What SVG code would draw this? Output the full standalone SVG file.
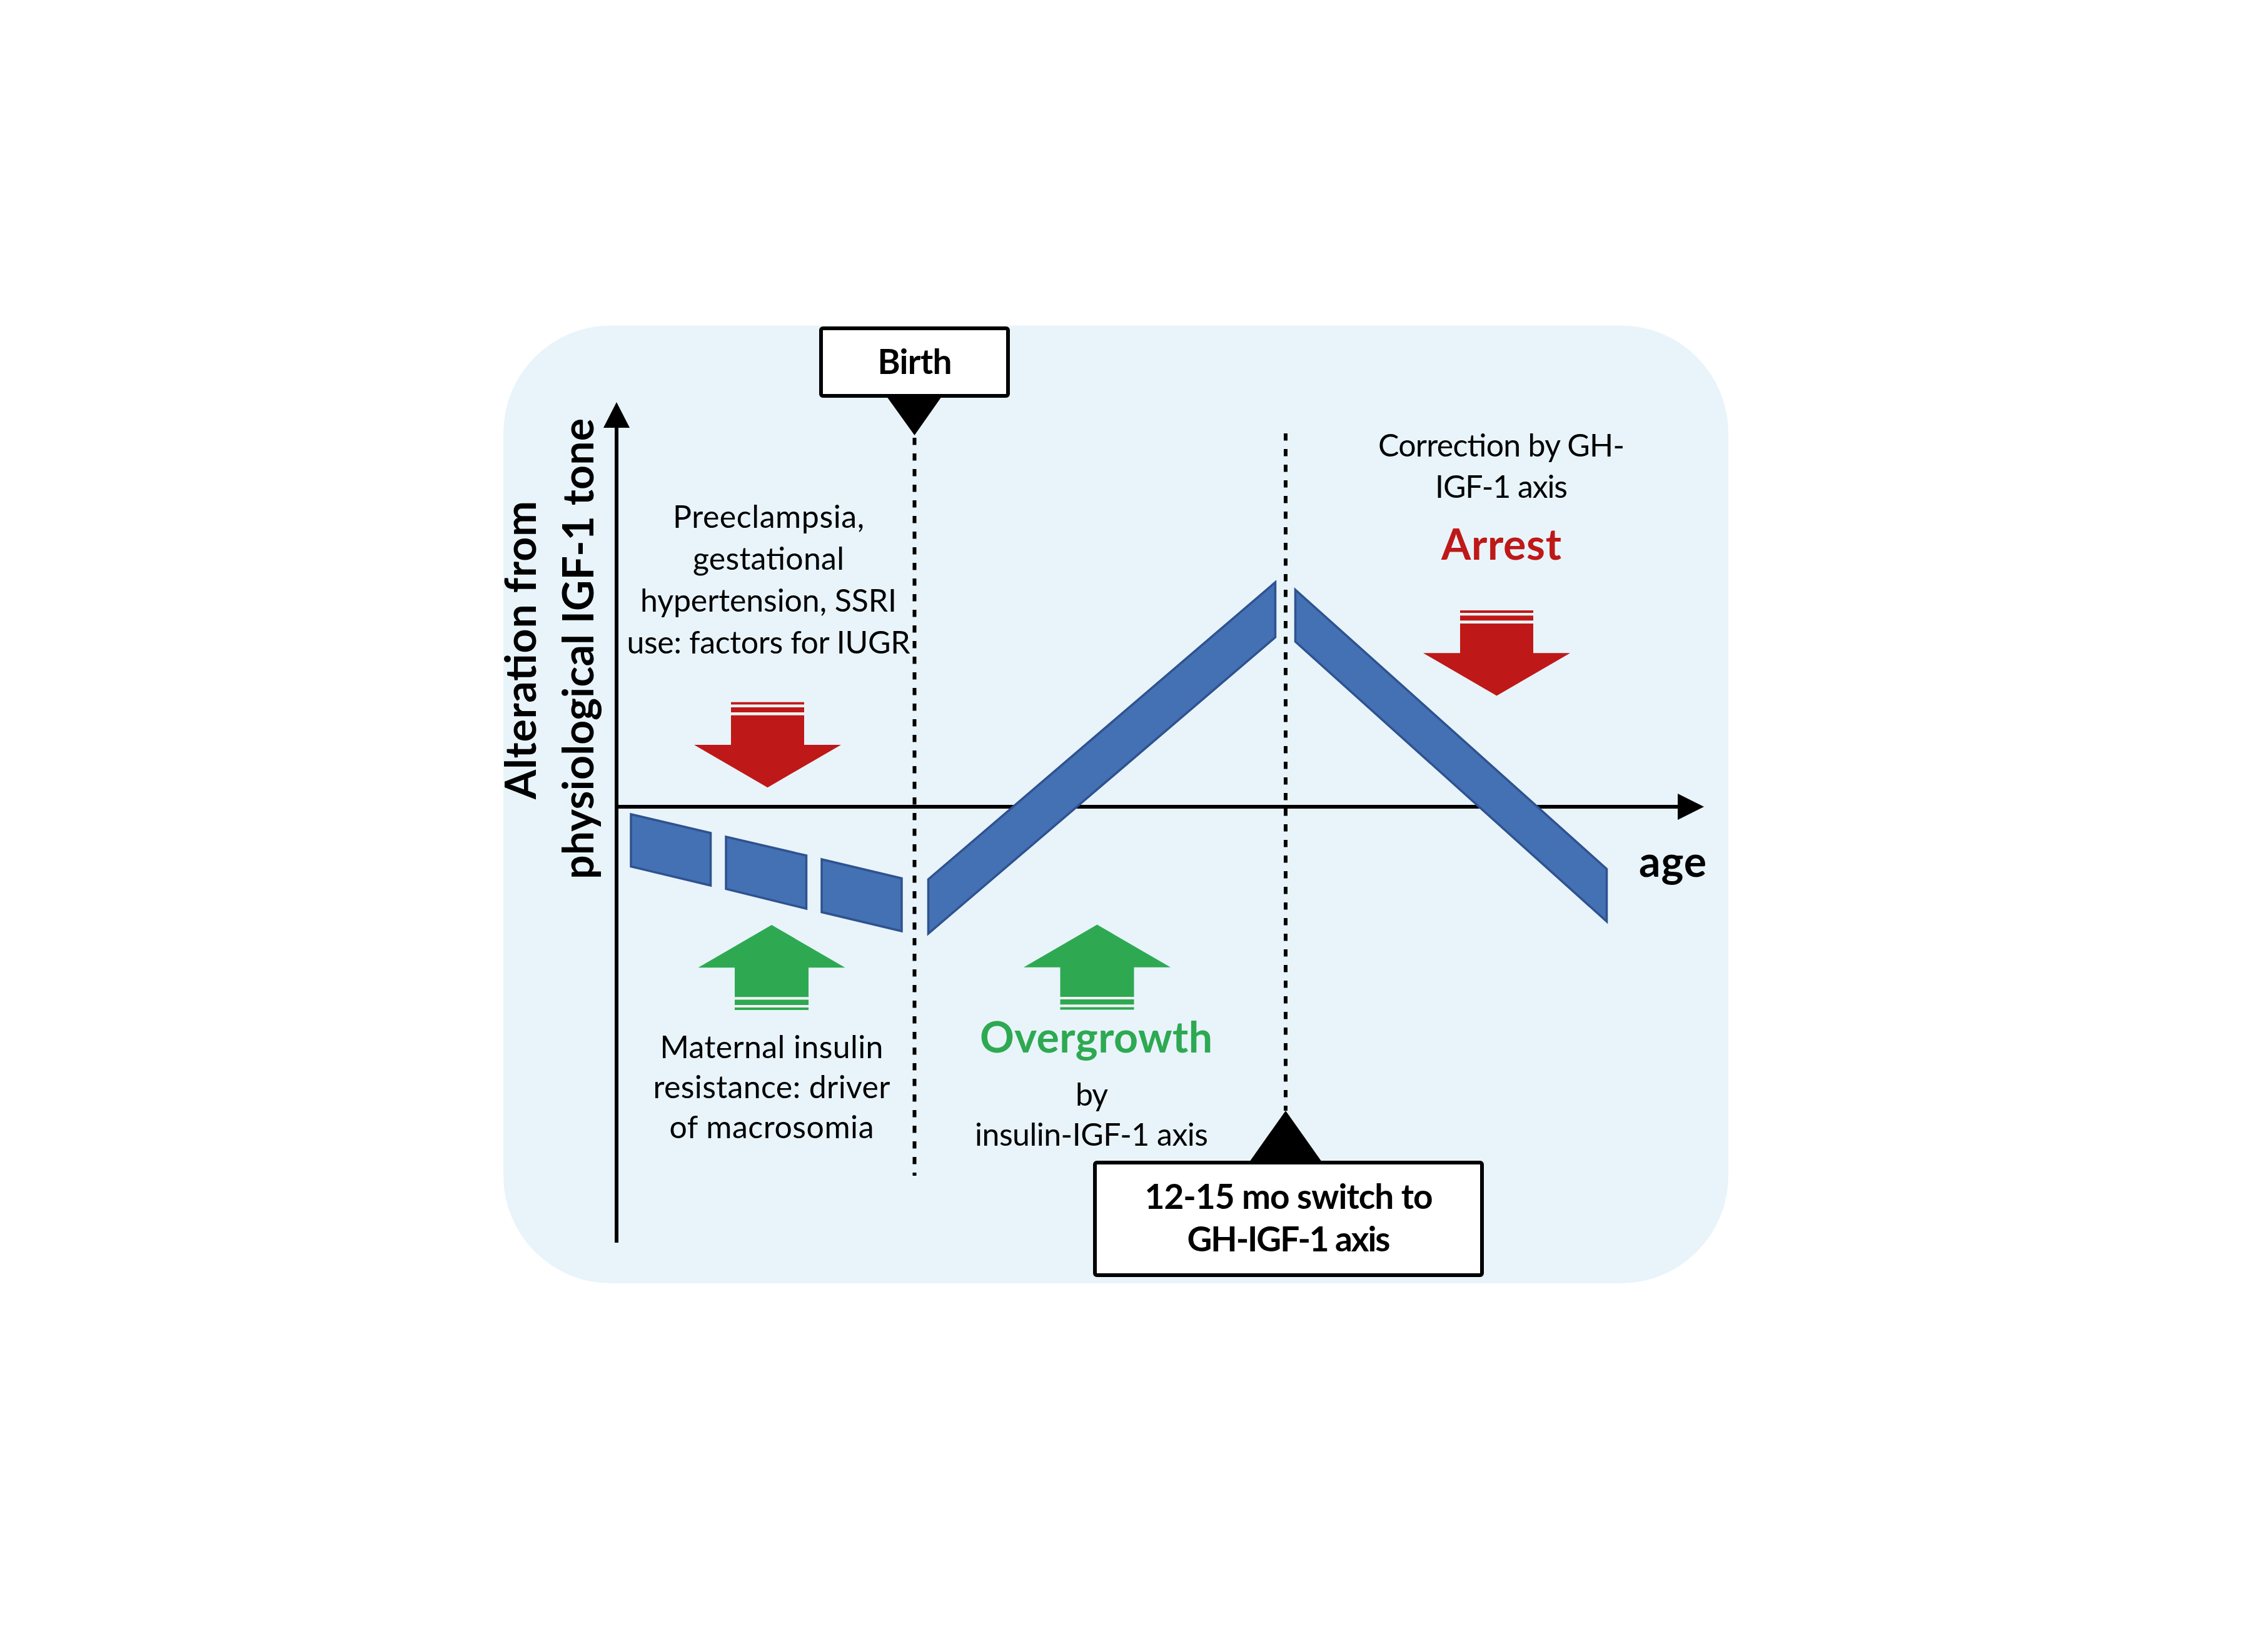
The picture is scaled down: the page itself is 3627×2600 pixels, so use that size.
<svg xmlns="http://www.w3.org/2000/svg" xmlns:xlink="http://www.w3.org/1999/xlink" width="3627" height="2600" viewBox="0 0 3627 2600">
  <style>
    .txt { font-family: Lato, "Liberation Sans", sans-serif; fill: #000; }
    .reg { font-size: 50px; font-weight: 400; }
    .bold { font-weight: 700; }
    .big { font-size: 68px; }
    .box { font-size: 55px; }
    .band { fill: #4470B4; stroke: #2F528F; stroke-width: 3.5; stroke-linejoin: miter; }
    .dash { stroke: #000; stroke-width: 6; stroke-dasharray: 11.5 13.5; fill: none; }
    .axis { stroke: #000; stroke-width: 6; fill: none; }
    .label { fill: #fff; stroke: #000; stroke-width: 6; }
    .redf { fill: #BF1818; }
    .greenf { fill: #2EA952; }
    .gap { fill: #F4F4F4; }
  </style>
  <defs>
    <g id="downArrow">
      <rect class="redf" x="-58.5" y="0" width="117" height="4"/>
      <rect class="gap" x="-58.5" y="4" width="117" height="4.3"/>
      <rect class="redf" x="-58.5" y="8.3" width="117" height="8.2"/>
      <rect class="gap" x="-58.5" y="16.5" width="117" height="4.5"/>
      <polygon class="redf" points="-58.5,21 58.5,21 58.5,68.3 117.5,68.3 0,136.5 -117.5,68.3 -58.5,68.3"/>
    </g>
    <g id="upArrow">
      <polygon class="greenf" points="0,0 117.5,68.3 59,68.3 59,115.5 -59,115.5 -59,68.3 -117.5,68.3"/>
      <rect class="gap" x="-59" y="115.5" width="118" height="4"/>
      <rect class="greenf" x="-59" y="119.5" width="118" height="8.5"/>
      <rect class="gap" x="-59" y="128" width="118" height="4"/>
      <rect class="greenf" x="-59" y="132" width="118" height="4"/>
    </g>
  </defs>

  <rect x="0" y="0" width="3627" height="2600" fill="#fff"/>

  <g id="background">
    <rect x="805" y="520.5" width="1959" height="1531.5" rx="172" ry="172" fill="#E8F4FA"/>
  </g>

  <g id="connectors">
    <g id="y-axis">
      <line class="axis" x1="986" y1="1987" x2="986" y2="680"/>
      <polygon points="986,643 1007,684 965,684" fill="#000"/>
    </g>
    <g id="x-axis">
      <line class="axis" x1="983" y1="1290" x2="2688" y2="1290"/>
      <polygon points="2725,1290 2683,1269 2683,1311" fill="#000"/>
    </g>
    <line id="birth-line" class="dash" x1="1462.5" y1="700" x2="1462.5" y2="1880"/>
    <line id="switch-line" class="dash" x1="2056" y1="693" x2="2056" y2="1776"/>
  </g>

  <g id="curve">
    <polygon class="band" points="1009,1302 1136.5,1332 1136.5,1416 1009,1385.5"/>
    <polygon class="band" points="1161,1338 1289.5,1368 1289.5,1453 1161,1421.5"/>
    <polygon class="band" points="1314,1374 1442,1404.5 1442,1489 1314,1458.5"/>
    <polygon class="band" points="1484.5,1493 1484.5,1406 2039.5,931 2039.5,1019"/>
    <polygon class="band" points="2071.5,943 2569.5,1389.5 2569.5,1473.5 2071.5,1026"/>
  </g>

  <g id="arrows">
    <use xlink:href="#downArrow" href="#downArrow" transform="translate(1227.5,1122.7)"/>
    <use xlink:href="#downArrow" href="#downArrow" transform="translate(2393.5,976)"/>
    <use xlink:href="#upArrow" href="#upArrow" transform="translate(1234,1479)"/>
    <use xlink:href="#upArrow" href="#upArrow" transform="translate(1754.5,1478.5)"/>
  </g>

  <g id="birth">
    <polygon points="1418,634 1506,634 1462.5,696" fill="#000"/>
    <rect class="label" x="1313" y="525" width="299" height="108" rx="3"/>
    <text class="txt bold box" x="1463" y="598" text-anchor="middle" textLength="119">Birth</text>
  </g>

  <g id="switch">
    <polygon points="1998,1858 2114,1858 2056,1776" fill="#000"/>
    <rect class="label" x="1751" y="1859" width="619" height="180" rx="3"/>
    <text class="txt bold box" x="2061" y="1933" text-anchor="middle" textLength="461">12-15 mo switch to</text>
    <text class="txt bold box" x="2061" y="2001" text-anchor="middle" textLength="325">GH-IGF-1 axis</text>
  </g>

  <g id="y-label">
    <text class="txt bold big" transform="translate(857,1039.5) rotate(-90)" text-anchor="middle" textLength="477">Alteration from</text>
    <text class="txt bold big" transform="translate(948.5,1037.5) rotate(-90)" text-anchor="middle" textLength="737">physiological IGF-1 tone</text>
  </g>

  <g id="iugr-text">
    <text class="txt reg" x="1229" y="844" text-anchor="middle" textLength="306">Preeclampsia,</text>
    <text class="txt reg" x="1229" y="911" text-anchor="middle" textLength="242">gestational</text>
    <text class="txt reg" x="1229" y="978" text-anchor="middle" textLength="410">hypertension, SSRI</text>
    <text class="txt reg" x="1229" y="1045" text-anchor="middle" textLength="453">use: factors for IUGR</text>
  </g>

  <g id="macrosomia-text">
    <text class="txt reg" x="1234" y="1692" text-anchor="middle" textLength="357">Maternal insulin</text>
    <text class="txt reg" x="1234" y="1756" text-anchor="middle" textLength="379">resistance: driver</text>
    <text class="txt reg" x="1234" y="1820" text-anchor="middle" textLength="327">of macrosomia</text>
  </g>

  <g id="overgrowth">
    <text class="txt bold big" x="1753" y="1683" text-anchor="middle" textLength="372" style="fill:#2EA952">Overgrowth</text>
    <text class="txt reg" x="1746" y="1767.6" text-anchor="middle" textLength="52">by</text>
    <text class="txt reg" x="1745.5" y="1832" text-anchor="middle" textLength="373">insulin-IGF-1 axis</text>
  </g>

  <g id="arrest">
    <text class="txt reg" x="2401" y="730" text-anchor="middle" textLength="394">Correction by GH-</text>
    <text class="txt reg" x="2401" y="796" text-anchor="middle" textLength="212">IGF-1 axis</text>
    <text class="txt bold big" x="2401" y="894.6" text-anchor="middle" textLength="192" style="fill:#BF1818">Arrest</text>
  </g>

  <g id="age">
    <text class="txt bold big" x="2675" y="1402" text-anchor="middle" textLength="108">age</text>
  </g>
</svg>
